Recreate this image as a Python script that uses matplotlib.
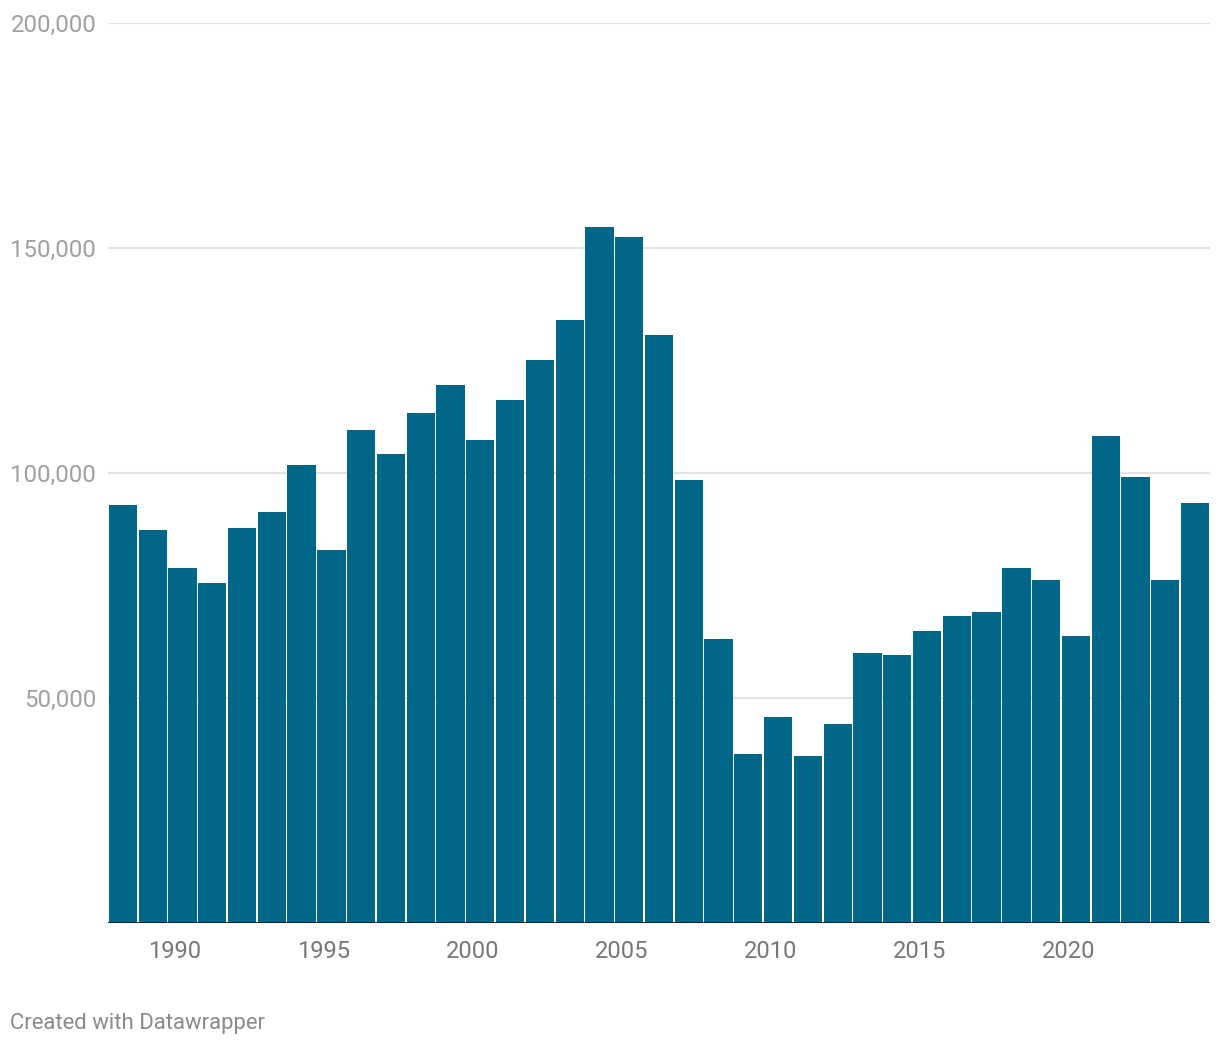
import matplotlib.pyplot as plt
import numpy as np

years = list(range(1988, 2025))
values = [92900, 87300, 78900, 75600, 87800, 91300, 101800, 82900, 109600, 104200,
          113300, 119600, 107300, 116200, 125100, 134000, 154700, 152400, 130700, 98400,
          63100, 37600, 45800, 37100, 44200, 60000, 59600, 64900, 68200, 69100,
          78900, 76200, 63800, 108200, 99100, 76200, 93300]
y_ticks = [50000, 100000, 150000, 200000]
x_ticks = [1990, 1995, 2000, 2005, 2010, 2015, 2020]

plt.rcParams['font.family'] = ['Roboto', 'DejaVu Sans']

fig = plt.figure(figsize=(12.2, 10.46), dpi=100)
ax = fig.add_axes([108 / 1220, 1 - 923 / 1046, 1102 / 1220, 900 / 1046])

ax.bar(years, values, width=0.95, color='#006788', zorder=2)

ax.set_xlim(1987.5, 2024.5)
ax.set_ylim(0, 200000)

# gridlines
for t in y_ticks:
    ax.axhline(t, color='#e3e3e3', linewidth=1.5, zorder=1)
ax.axhline(0, color='#1a1a1a', linewidth=2, zorder=3)

for s in ax.spines.values():
    s.set_visible(False)

ax.set_yticks(y_ticks)
ax.set_yticklabels([f'{t:,}' for t in y_ticks])
ax.tick_params(axis='y', length=0, pad=8.5, labelsize=17.3, labelcolor='#a0a0a0')

ax.set_xticks([x - 0.25 for x in x_ticks])
ax.set_xticklabels([str(x) for x in x_ticks])
ax.tick_params(axis='x', length=0, pad=12, labelsize=17, labelcolor='#777777')

fig.text(10 / 1220, 1 - 1023 / 1046, 'Created with Datawrapper', fontsize=15.9,
         color='#8a8a8a', va='center', ha='left')

plt.savefig('out.png', dpi=100)
